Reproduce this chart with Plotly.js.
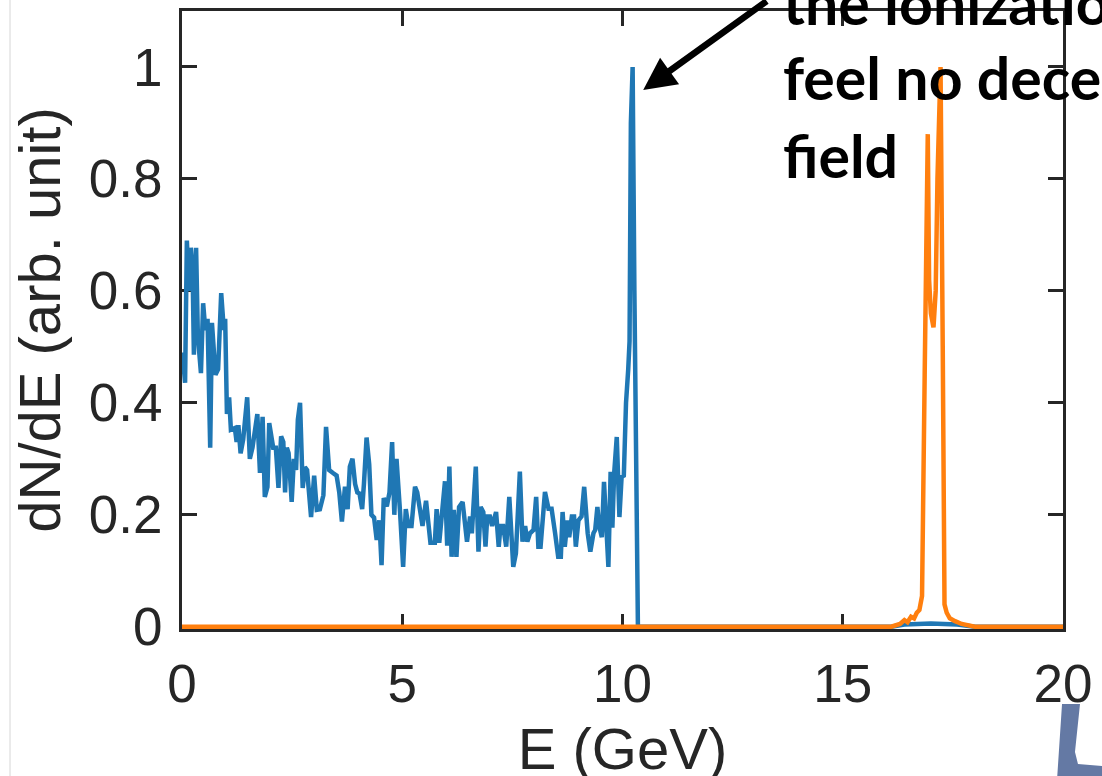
<!DOCTYPE html>
<html>
<head>
<meta charset="utf-8">
<script src="https://cdn.plot.ly/plotly-3.0.1.min.js"></script>
<style>
  html, body { margin: 0; padding: 0; background: #ffffff; overflow: hidden; }
  #chart { width: 1102px; height: 800px; }
</style>
</head>
<body>
<div id="chart"></div>
<script>
// ---- data ----
const blueE = [0.01,0.07,0.11,0.16,0.2,0.24,0.27,0.32,0.36,0.43,0.48,0.53,0.58,0.64,0.68,0.76,0.82,0.89,0.95,0.98,
  1.02,1.07,1.11,1.2,1.24,1.28,1.33,1.39,1.48,1.54,1.6,1.71,1.77,1.83,1.88,1.94,1.98,2.07,2.13,2.19,
  2.25,2.3,2.34,2.38,2.42,2.49,2.54,2.59,2.63,2.68,2.74,2.79,2.84,2.93,3.0,3.06,3.13,3.21,3.27,3.34,
  3.42,3.51,3.57,3.63,3.7,3.76,3.81,3.87,3.93,3.98,4.03,4.09,4.13,4.19,4.25,4.3,4.36,4.42,4.48,4.53,
  4.58,4.65,4.71,4.77,4.82,4.87,4.95,5.02,5.08,5.14,5.21,5.29,5.34,5.4,5.46,5.54,5.6,5.64,5.74,5.78,
  5.84,5.89,5.97,6.02,6.07,6.12,6.17,6.23,6.29,6.37,6.47,6.54,6.58,6.67,6.73,6.78,6.84,6.89,6.93,6.99,
  7.04,7.13,7.19,7.23,7.29,7.36,7.43,7.52,7.58,7.67,7.73,7.79,7.84,7.9,7.98,8.04,8.09,8.14,8.24,8.32,
  8.39,8.47,8.54,8.6,8.64,8.69,8.75,8.79,8.85,8.9,8.94,9.0,9.07,9.13,9.21,9.27,9.34,9.38,9.43,9.47,
  9.53,9.58,9.62,9.68,9.73,9.77,9.81,9.87,9.93,9.98,10.03,10.08,10.13,10.16,10.19,10.23,10.27,10.31,10.35,
  12,16.1,16.4,17.0,17.6,18.0,20];
const blueY = [0.49,0.436,0.69,0.60,0.677,0.64,0.486,0.677,0.52,0.453,0.578,0.53,0.55,0.32,0.543,0.45,0.46,0.596,0.53,0.55,
  0.38,0.41,0.352,0.355,0.33,0.36,0.31,0.335,0.41,0.30,0.32,0.38,0.275,0.375,0.232,0.25,0.364,0.32,0.32,0.248,
  0.34,0.33,0.24,0.32,0.31,0.223,0.30,0.28,0.37,0.40,0.248,0.285,0.28,0.196,0.27,0.209,0.21,0.235,0.357,0.28,
  0.275,0.27,0.24,0.188,0.25,0.21,0.286,0.30,0.255,0.24,0.238,0.21,0.255,0.338,0.29,0.20,0.195,0.155,0.19,0.11,
  0.23,0.215,0.24,0.33,0.20,0.30,0.205,0.107,0.21,0.18,0.18,0.25,0.24,0.215,0.18,0.225,0.18,0.15,0.15,0.21,
  0.15,0.195,0.26,0.145,0.286,0.125,0.209,0.125,0.214,0.223,0.152,0.197,0.167,0.286,0.134,0.214,0.205,0.143,0.197,0.197,
  0.18,0.205,0.143,0.18,0.18,0.143,0.232,0.107,0.131,0.277,0.152,0.18,0.152,0.167,0.173,0.232,0.143,0.143,0.241,0.211,
  0.211,0.167,0.125,0.125,0.205,0.143,0.19,0.16,0.197,0.197,0.143,0.19,0.197,0.25,0.167,0.134,0.167,0.173,0.214,0.18,
  0.16,0.259,0.18,0.107,0.277,0.177,0.273,0.339,0.196,0.268,0.27,0.40,0.46,0.51,0.9,1.0,0.6,0.2,0,
  0,0,0.004,0.006,0.004,0,0];

const orangeE = [0,16.1,16.3,16.4,16.47,16.55,16.62,16.68,16.74,16.8,16.86,16.93,16.96,17.0,17.06,17.11,17.15,17.22,17.27,17.31,17.36,17.43,17.55,17.7,18.0,20];
const orangeY = [0,0,0.005,0.012,0.008,0.018,0.015,0.025,0.03,0.055,0.45,0.88,0.62,0.56,0.535,0.6,0.8,1.0,0.5,0.04,0.025,0.015,0.01,0.005,0,0];

const xTicks = [0, 5, 10, 15, 20];
const yTicks = [0, 0.2, 0.4, 0.6, 0.8, 1];
const xTitle = 'E (GeV)';
const yTitle = 'dN/dE (arb. unit)';
const noteLines = ['the ionization', 'feel no deceleration', 'field'];

// ---- layout helpers (pixel -> paper); figure is taller than the 776px view, bottom is cut like the reference ----
const W = 1102, H = 800;
const M = {l: 182, r: 39, t: 11, b: 171};
const PW = W - M.l - M.r, PH = H - M.t - M.b;
const px = v => (v - M.l) / PW;
const py = v => (H - M.b - v) / PH;

const axisColor = '#262626';
const tickFont = {family: 'Liberation Sans, Arial, Helvetica, sans-serif', size: 53, color: axisColor};
const titleFont = {family: 'Liberation Sans, Arial, Helvetica, sans-serif', size: 58, color: axisColor};
const noteFont = {family: 'Lato, Carlito, Calibri, sans-serif', size: 59, color: '#000000'};
const noteBaselines = [25, 100, 178];

const logoPts = [[1062,704],[1080,704],[1075,752],[1078,764],[1102,766],[1102,780],[1057,780]];
const logoPath = 'M' + logoPts.map(p => px(p[0]).toFixed(4) + ',' + py(p[1]).toFixed(4)).join('L') + 'Z';

const traces = [
  {x: blueE, y: blueY, type: 'scatter', mode: 'lines', line: {color: '#1f77b4', width: 4.5}, hoverinfo: 'skip'},
  {x: orangeE, y: orangeY, type: 'scatter', mode: 'lines', line: {color: '#ff7f0e', width: 4.5}, hoverinfo: 'skip'}
];

const noteAnns = noteLines.map((s, i) => ({
  xref: 'paper', yref: 'paper', x: px(781), y: py(noteBaselines[i] - 60), xanchor: 'left', yanchor: 'top',
  align: 'left', showarrow: false, text: '<b>' + s + '</b>', font: noteFont
}));

const layout = {
  width: W, height: H,
  margin: M,
  paper_bgcolor: '#ffffff', plot_bgcolor: '#ffffff',
  showlegend: false,
  xaxis: {
    range: [0, 20], tickvals: xTicks, ticktext: xTicks.map(String),
    ticks: 'inside', ticklen: 15, tickwidth: 3, tickcolor: axisColor,
    showline: true, linewidth: 3, linecolor: axisColor, mirror: 'ticks',
    showgrid: false, zeroline: false, tickfont: tickFont, layer: 'below traces',
    ticklabelstandoff: 6,
    title: {text: xTitle, font: titleFont, standoff: 17}
  },
  yaxis: {
    range: [-0.004, 1.1], tickvals: yTicks, ticktext: yTicks.map(String),
    ticks: 'inside', ticklen: 15, tickwidth: 3, tickcolor: axisColor,
    showline: true, linewidth: 3, linecolor: axisColor, mirror: 'ticks',
    showgrid: false, zeroline: false, tickfont: tickFont, layer: 'below traces',
    ticklabelstandoff: 6,
    title: {text: yTitle, font: titleFont, standoff: 10}
  },
  shapes: [
    {type: 'line', xref: 'paper', yref: 'paper', x0: px(10), x1: px(10), y0: py(0), y1: py(H),
     line: {color: '#d6d6d6', width: 1}},
    {type: 'path', xref: 'paper', yref: 'paper', path: logoPath, fillcolor: '#6479a4', line: {width: 0}}
  ],
  annotations: noteAnns.concat([
    {xref: 'x', yref: 'y', x: 10.47, y: 0.959, ax: 125, ay: -110, text: '', showarrow: true,
     arrowhead: 2, arrowwidth: 6.5, arrowsize: 1, arrowcolor: '#000000'}
  ])
};

Plotly.newPlot('chart', traces, layout, {staticPlot: true, displayModeBar: false});
</script>
</body>
</html>
